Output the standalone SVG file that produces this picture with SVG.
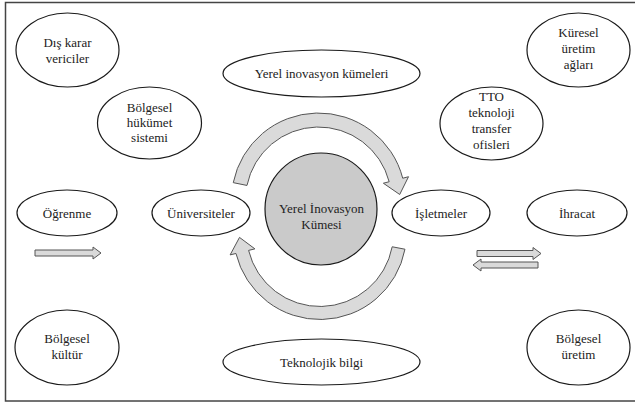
<svg xmlns="http://www.w3.org/2000/svg" width="635" height="403" viewBox="0 0 635 403" font-family="'Liberation Serif', 'Times New Roman', 'DejaVu Serif', serif">
  <style>
    .frame { fill: none; stroke: #444; stroke-width: 1.5; }
    .node ellipse { fill: #ffffff; stroke: #1a1a1a; stroke-width: 1.2; }
    .hub circle { fill: #cacaca; stroke: #1a1a1a; stroke-width: 1.2; }
    text { font-family: 'Liberation Serif', 'Times New Roman', 'DejaVu Serif', serif; font-size: 13px; fill: #222; text-anchor: middle; }
    .arrow { fill: #dadada; stroke: #555; stroke-width: 1; stroke-linejoin: miter; }
  </style>
  <rect class="frame" x="5.5" y="2.5" width="640" height="398.5"/>

  <g id="connectors">
    <path class="arrow" d="M233.25,182.65 A87,87 0 0 1 402.73,178.22 L408.53,176.71 L399.71,194.49 L383.36,183.22 L389.17,181.72 A73,73 0 0 0 246.97,185.44 Z"/>
    <path class="arrow" d="M404.97,249.21 A86.5,86.5 0 0 1 235.96,253.48 L230.13,254.90 L239.5,237.4 L254.90,248.87 L248.59,250.40 A73.5,73.5 0 0 0 392.20,246.77 Z"/>
    <path class="arrow" d="M35,250 L93,250 L93,247 L101,253 L93,259 L93,256 L35,256 Z"/>
    <path class="arrow" d="M477,250.5 L533,250.5 L533,247.5 L541,253.5 L533,259.5 L533,256.5 L477,256.5 Z"/>
    <path class="arrow" d="M538,262 L481,262 L481,259 L473,265 L481,271 L481,268 L538,268 Z"/>
  </g>

  <g id="hub" class="hub">
    <circle cx="321" cy="209" r="56"/>
    <text x="321.5" y="212.5" font-family="'Liberation Serif', serif">Yerel İnovasyon</text>
    <text x="321.5" y="229" font-family="'Liberation Serif', serif">Kümesi</text>
  </g>

  <g id="dis-karar" class="node" font-family="'Liberation Serif', serif">
    <ellipse cx="67.5" cy="50" rx="51.5" ry="37"/>
    <text x="67.5" y="47">Dış karar</text>
    <text x="67.5" y="62.5">vericiler</text>
  </g>
  <g id="yerel-kumeler" class="node">
    <ellipse cx="321.5" cy="73.5" rx="98.5" ry="23.5"/>
    <text x="321.5" y="77.5">Yerel inovasyon kümeleri</text>
  </g>
  <g id="bolgesel-hukumet" class="node">
    <ellipse cx="149.5" cy="123" rx="52" ry="36"/>
    <text x="149.5" y="111.5">Bölgesel</text>
    <text x="149.5" y="126.5">hükümet</text>
    <text x="149.5" y="141.5">sistemi</text>
  </g>
  <g id="kuresel" class="node">
    <ellipse cx="578.5" cy="50" rx="51.5" ry="37"/>
    <text x="578.5" y="37">Küresel</text>
    <text x="578.5" y="53">üretim</text>
    <text x="578.5" y="69">ağları</text>
  </g>
  <g id="tto" class="node">
    <ellipse cx="491.5" cy="123.5" rx="51.5" ry="36.5"/>
    <text x="491.5" y="101">TTO</text>
    <text x="491.5" y="117">teknoloji</text>
    <text x="491.5" y="133">transfer</text>
    <text x="491.5" y="149">ofisleri</text>
  </g>
  <g id="ogrenme" class="node">
    <ellipse cx="67" cy="213" rx="50" ry="23"/>
    <text x="67" y="217.5">Öğrenme</text>
  </g>
  <g id="universiteler" class="node">
    <ellipse cx="201" cy="213" rx="49" ry="23"/>
    <text x="201" y="217.5">Üniversiteler</text>
  </g>
  <g id="isletmeler" class="node">
    <ellipse cx="441" cy="213" rx="49" ry="23"/>
    <text x="441" y="217.5">İşletmeler</text>
  </g>
  <g id="ihracat" class="node">
    <ellipse cx="577" cy="213" rx="50" ry="23"/>
    <text x="577" y="217.5">İhracat</text>
  </g>
  <g id="bolgesel-kultur" class="node">
    <ellipse cx="67" cy="347.5" rx="52" ry="37.5"/>
    <text x="67" y="343">Bölgesel</text>
    <text x="67" y="359">kültür</text>
  </g>
  <g id="teknolojik-bilgi" class="node">
    <ellipse cx="321.5" cy="362" rx="98.5" ry="23"/>
    <text x="321.5" y="366.5">Teknolojik bilgi</text>
  </g>
  <g id="bolgesel-uretim" class="node">
    <ellipse cx="578.5" cy="347.5" rx="51.5" ry="37.5"/>
    <text x="578.5" y="343">Bölgesel</text>
    <text x="578.5" y="359">üretim</text>
  </g>
</svg>
